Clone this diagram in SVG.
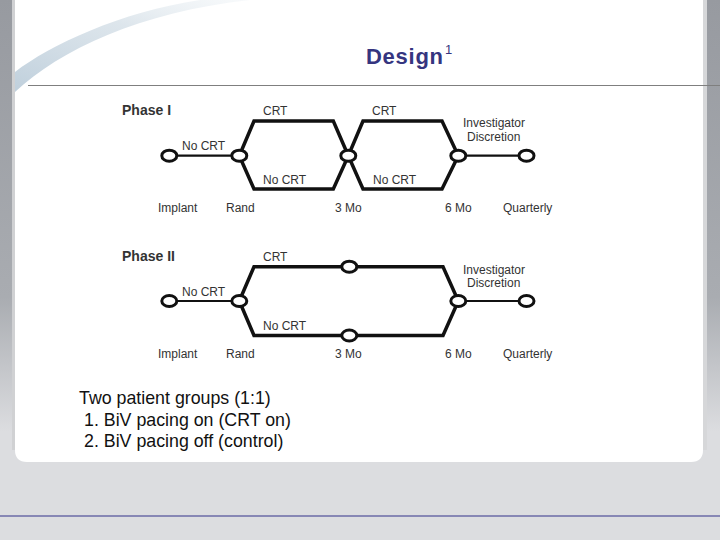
<svg xmlns="http://www.w3.org/2000/svg" width="720" height="540" viewBox="0 0 720 540">
<defs>
<linearGradient id="bg" x1="0" y1="0" x2="0" y2="1">
<stop offset="0" stop-color="#979aa0"/>
<stop offset="0.55" stop-color="#a9acb1"/>
<stop offset="0.8" stop-color="#dcdde0"/>
<stop offset="1" stop-color="#dcdde0"/>
</linearGradient>
<linearGradient id="sw" x1="0" y1="1" x2="1" y2="0">
<stop offset="0" stop-color="#b8cad8" stop-opacity="0.9"/>
<stop offset="0.6" stop-color="#cfdbe4" stop-opacity="0.7"/>
<stop offset="1" stop-color="#e6edf2" stop-opacity="0.3"/>
</linearGradient>
<style>
.lbl{font-family:"Liberation Sans",Arial,sans-serif;font-size:12px;fill:#333}
.ph{font-family:"Liberation Sans",Arial,sans-serif;font-size:14px;font-weight:bold;fill:#333}
.body{font-family:"Liberation Sans",Arial,sans-serif;font-size:17.8px;fill:#111}
.node ellipse{fill:#fff;stroke:#111;stroke-width:3}
.conn{fill:none;stroke:#111;stroke-width:3.5;stroke-linejoin:miter}
.thin{fill:none;stroke:#111;stroke-width:2.2}
</style>
</defs>
<rect x="0" y="0" width="720" height="540" fill="url(#bg)"/>
<rect x="0" y="462" width="720" height="78" fill="#dcdde0"/>
<rect x="12" y="0" width="3" height="450" fill="#d0d1d3"/>
<rect x="703" y="0" width="4" height="450" fill="#d6d7d9"/>
<path d="M15,0 H703 V450 Q703,462 691,462 H27 Q15,462 15,450 Z" fill="#ffffff"/>
<path d="M15,92 C60,50 140,12 250,0 L200,0 C120,12 50,45 15,72 Z" fill="url(#sw)"/>
<line x1="0" y1="516" x2="720" y2="516" stroke="#33338a" stroke-width="1.2"/>
<line x1="28" y1="85.5" x2="720" y2="85.5" stroke="#7f7f7f" stroke-width="1"/>
<text x="366" y="64" font-family="'Liberation Sans',Arial,sans-serif" font-size="22" font-weight="bold" fill="#35357f" textLength="77">Design</text>
<text x="445" y="54" font-family="'Liberation Sans',Arial,sans-serif" font-size="13" fill="#35357f">1</text>

<g id="connectors">
<line class="thin" x1="175" y1="155.7" x2="233" y2="155.7"/>
<line class="thin" x1="465" y1="155.7" x2="520" y2="155.7"/>
<path class="conn" d="M239.3,155.7 L254,121 L333.3,121 L348.3,155.7 L363,189 L442,189 L458.3,155.7"/>
<path class="conn" d="M239.3,155.7 L254,189 L333.3,189 L348.3,155.7 L363,121 L442,121 L458.3,155.7"/>
<line class="thin" x1="175" y1="301" x2="233" y2="301"/>
<line class="thin" x1="465" y1="301" x2="520" y2="301"/>
<path class="conn" d="M239.3,301 L254,266.7 L443,266.7 L458.3,301"/>
<path class="conn" d="M239.3,301 L254,335.5 L443,335.5 L458.3,301"/>
</g>

<text class="ph" x="122" y="115">Phase I</text>
<text class="lbl" x="263" y="115">CRT</text>
<text class="lbl" x="372" y="115">CRT</text>
<text class="lbl" x="182" y="150">No CRT</text>
<text class="lbl" x="263" y="184">No CRT</text>
<text class="lbl" x="373" y="184">No CRT</text>
<text class="lbl" x="463" y="127">Investigator</text>
<text class="lbl" x="467" y="141">Discretion</text>
<text class="lbl" x="158" y="212">Implant</text>
<text class="lbl" x="226" y="212">Rand</text>
<text class="lbl" x="335" y="212">3 Mo</text>
<text class="lbl" x="445" y="212">6 Mo</text>
<text class="lbl" x="503" y="212">Quarterly</text>

<g id="p1-implant" class="node"><ellipse cx="169.3" cy="155.7" rx="7.5" ry="5.5"/></g>
<g id="p1-rand" class="node"><ellipse cx="239.3" cy="155.7" rx="7.5" ry="5.5"/></g>
<g id="p1-3mo" class="node"><ellipse cx="348.3" cy="155.7" rx="7.5" ry="5.5"/></g>
<g id="p1-6mo" class="node"><ellipse cx="458.3" cy="155.7" rx="7.5" ry="5.5"/></g>
<g id="p1-quarterly" class="node"><ellipse cx="526.5" cy="155.7" rx="7.5" ry="5.5"/></g>

<text class="ph" x="122" y="261">Phase II</text>
<text class="lbl" x="263" y="261">CRT</text>
<text class="lbl" x="182" y="296">No CRT</text>
<text class="lbl" x="263" y="330">No CRT</text>
<text class="lbl" x="463" y="274">Investigator</text>
<text class="lbl" x="467" y="287">Discretion</text>
<text class="lbl" x="158" y="358">Implant</text>
<text class="lbl" x="226" y="358">Rand</text>
<text class="lbl" x="335" y="358">3 Mo</text>
<text class="lbl" x="445" y="358">6 Mo</text>
<text class="lbl" x="503" y="358">Quarterly</text>

<g id="p2-implant" class="node"><ellipse cx="169.3" cy="301" rx="7.5" ry="5.5"/></g>
<g id="p2-rand" class="node"><ellipse cx="239.3" cy="301" rx="7.5" ry="5.5"/></g>
<g id="p2-3mo-crt" class="node"><ellipse cx="349.3" cy="266.7" rx="7.5" ry="5.5"/></g>
<g id="p2-3mo-nocrt" class="node"><ellipse cx="349.3" cy="335.5" rx="7.5" ry="5.5"/></g>
<g id="p2-6mo" class="node"><ellipse cx="458.3" cy="301" rx="7.5" ry="5.5"/></g>
<g id="p2-quarterly" class="node"><ellipse cx="526.5" cy="301" rx="7.5" ry="5.5"/></g>

<text class="body" x="79" y="404">Two patient groups (1:1)</text>
<text class="body" x="84" y="426">1. BiV pacing on (CRT on)</text>
<text class="body" x="84" y="447">2. BiV pacing off (control)</text>
</svg>
